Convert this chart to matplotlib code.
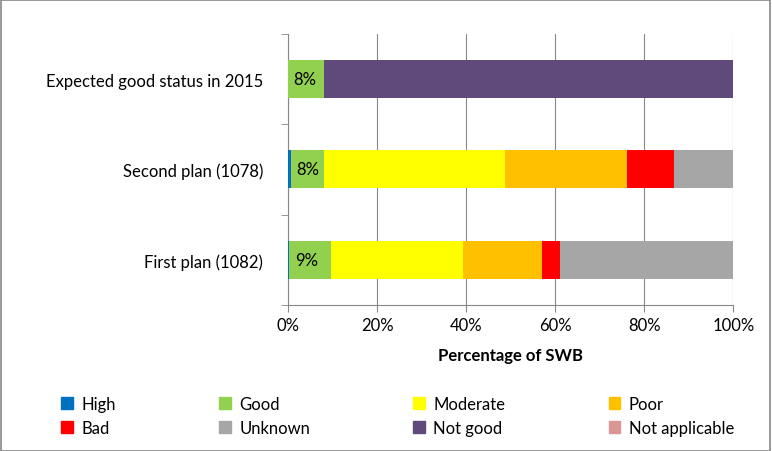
import numpy as np
import matplotlib
matplotlib.use("Agg")
import matplotlib.pyplot as plt
from matplotlib.patches import Patch, Rectangle

plt.rcParams['font.family'] = ['Lato', 'DejaVu Sans']

categories = ["First plan (1082)", "Second plan (1078)", "Expected good status in 2015"]
classes = ["High", "Good", "Moderate", "Poor", "Bad", "Unknown", "Not good", "Not applicable"]
colors = ["#0070C0", "#92D050", "#FFFF00", "#FFC000", "#FF0000", "#A6A6A6", "#604A7B", "#D99694"]
values = {
    "High":           [0.3, 0.6, 0.0],
    "Good":           [9.4, 7.4, 8.0],
    "Moderate":       [29.6, 40.8, 0.0],
    "Poor":           [17.8, 27.4, 0.0],
    "Bad":            [4.0, 10.5, 0.0],
    "Unknown":        [38.9, 13.3, 0.0],
    "Not good":       [0.0, 0.0, 92.0],
    "Not applicable": [0.0, 0.0, 0.0],
}
good_labels = ["9%", "8%", "8%"]

fig = plt.figure(figsize=(7.72, 4.52), dpi=100)
ax = fig.add_axes([0.373, 0.323, 0.577, 0.6])
y = np.arange(len(categories))
left = np.zeros(len(categories))
for name, c in zip(classes, colors):
    v = np.array(values[name])
    ax.barh(y, v, left=left, height=0.42, color=c, zorder=3)
    if name == "Good":
        for i in range(len(categories)):
            ax.text(left[i] + 1.2, y[i], good_labels[i], va='center', ha='left', fontsize=12, zorder=4)
    left += v

ax.set_xlim(0, 100)
ax.set_ylim(-0.5, 2.5)
ax.set_xticks(np.arange(0, 101, 20))
ax.set_xticklabels([f"{t}%" for t in range(0, 101, 20)], fontsize=12)
ax.set_yticks(y)
ax.set_yticklabels(categories, fontsize=12)
ax.set_yticks([-0.5, 0.5, 1.5, 2.5], minor=True)
ax.tick_params(axis='y', which='major', length=0, pad=18)
ax.tick_params(axis='y', which='minor', length=5, color='#888888')
ax.tick_params(axis='x', length=5, color='#888888')
ax.grid(axis='x', color='#888888', linewidth=0.8, zorder=0)
for s in ['top', 'right']:
    ax.spines[s].set_visible(False)
ax.spines['left'].set_color('#888888')
ax.spines['bottom'].set_color('#888888')
ax.set_xlabel("Percentage of SWB", fontsize=12, fontweight='bold', labelpad=10)

# legend is filled row by row in the reference, matplotlib fills by column
handles = [Patch(color=c, label=n) for n, c in zip(classes, colors)]
handles = [handles[i] for i in [0, 4, 1, 5, 2, 6, 3, 7]]
fig.legend(handles=handles, loc='lower left', bbox_to_anchor=(0.06, 0.0), ncol=4, frameon=False,
           fontsize=12, handlelength=0.7, handleheight=0.7, columnspacing=6.2, handletextpad=0.5)

fig.patches.append(Rectangle((0.001, 0.001), 0.997, 0.997, transform=fig.transFigure,
                             fill=False, edgecolor='#888888', linewidth=1.2))
fig.savefig("out.png", dpi=100)
